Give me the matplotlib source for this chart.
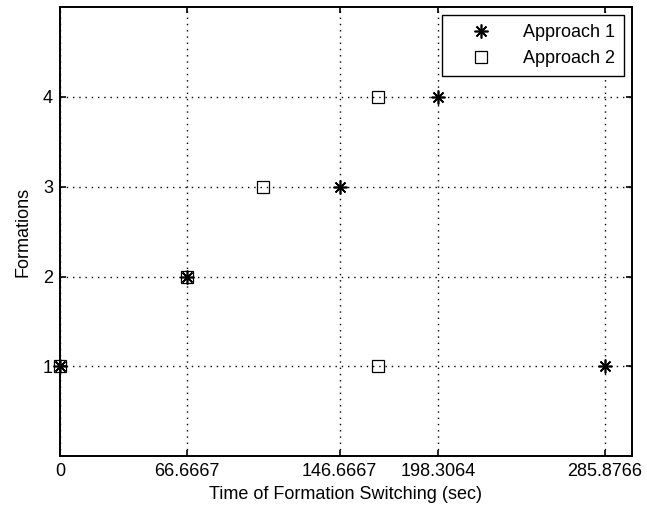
import numpy as np
import matplotlib.pyplot as plt

plt.rcParams['font.family'] = ['Liberation Sans', 'DejaVu Sans']

# switching times (sec) and the formation reached
t1 = [0, 66.6667, 146.6667, 198.3064, 285.8766]
f1 = [1, 2, 3, 4, 1]
t2 = [0, 66.6667, 106.6667, 166.6667, 166.6667]
f2 = [1, 2, 3, 4, 1]
xticks = [0, 66.6667, 146.6667, 198.3064, 285.8766]
xticklabels = ['0', '66.6667', '146.6667', '198.3064', '285.8766']
yticks = [1, 2, 3, 4]

fig = plt.figure(figsize=(6.47, 5.13), dpi=100)
ax = fig.add_axes([0.0927, 0.111, 0.884, 0.875])

ax.plot(t1, f1, linestyle='none', marker=(8, 2, 0), markersize=10,
        markeredgewidth=1.2, color='black', label='Approach 1', clip_on=False, zorder=3)
ax.plot(t2, f2, linestyle='none', marker='s', markersize=9,
        markerfacecolor='none', markeredgewidth=0.9, color='black',
        label='Approach 2', clip_on=False, zorder=3)

ax.set_xlim(0, 300)
ax.set_ylim(0, 5)
ax.set_xticks(xticks)
ax.set_xticklabels(xticklabels)
ax.set_yticks(yticks)
ax.tick_params(direction='in', top=True, right=True, labelsize=13, length=4,
               width=1.2, pad=5)
ax.grid(True, color='black', linestyle=(0, (1, 3.5)), linewidth=1.0)
for s in ax.spines.values():
    s.set_linewidth(1.4)

ax.set_xlabel('Time of Formation Switching (sec)', fontsize=13, labelpad=4.5)
ax.set_ylabel('Formations', fontsize=13, labelpad=8)

leg = ax.legend(loc='upper right', fontsize=13, fancybox=False,
                edgecolor='black', framealpha=1, borderaxespad=0.45,
                borderpad=0.5, handletextpad=0.6, labelspacing=0.5,
                handlelength=3.4)
leg.get_frame().set_linewidth(1.0)

fig.savefig('out.png', dpi=100)
